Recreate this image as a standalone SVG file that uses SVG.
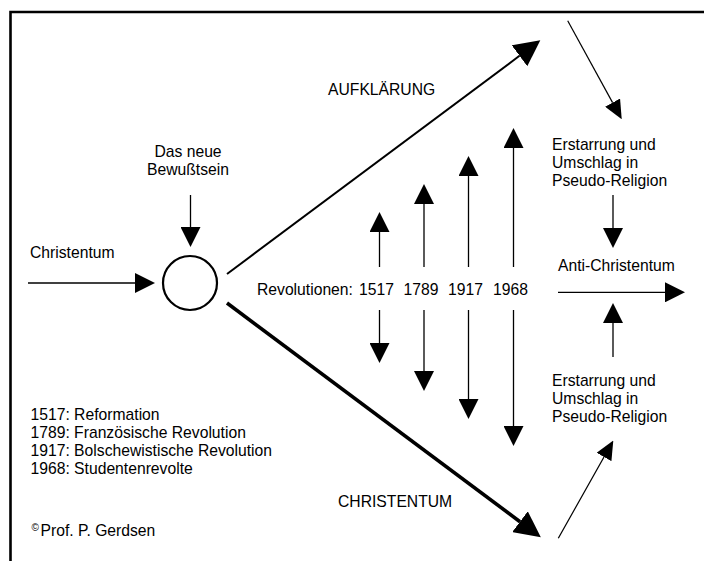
<svg xmlns="http://www.w3.org/2000/svg" width="704" height="561" viewBox="0 0 704 561">
<style>
text{font-family:"Liberation Sans",Arial,sans-serif;font-size:15.7px;fill:#000}
.c{text-anchor:middle}
.ln{stroke:#000;fill:none;stroke-width:1.3}
.thin{stroke:#000;fill:none;stroke-width:1.2}
.up{stroke:#000;fill:none;stroke-width:2}
.dn{stroke:#000;fill:none;stroke-width:3.6}
</style>
<defs>
<marker id="h" viewBox="0 0 20 20" markerWidth="20" markerHeight="20" refX="0" refY="10" orient="auto" markerUnits="userSpaceOnUse"><path d="M0,0 L20,10 L0,20 z" fill="#000"/></marker>
<marker id="hb" viewBox="0 0 26 26" markerWidth="26" markerHeight="26" refX="0" refY="13" orient="auto" markerUnits="userSpaceOnUse"><path d="M0,0 L26,13 L0,26 z" fill="#000"/></marker>
<marker id="ht" viewBox="0 0 19 17" markerWidth="19" markerHeight="17" refX="0" refY="8.5" orient="auto" markerUnits="userSpaceOnUse"><path d="M0,0 L19,8.5 L0,17 z" fill="#000"/></marker>
</defs>
<rect width="704" height="561" fill="#fff"/>
<path d="M10.5,561 V12 H704" fill="none" stroke="#000" stroke-width="2.6"/>

<g id="connectors">
<path class="ln" d="M28,283 H135" marker-end="url(#h)"/>
<path class="ln" d="M190.5,195 V227" marker-end="url(#h)"/>
<path class="up" d="M227,274 L519.5,55.8" marker-end="url(#hb)"/>
<path class="dn" d="M227,303 L520,521.7" marker-end="url(#hb)"/>
<path class="thin" d="M567.7,20.7 L612.6,102.6" marker-end="url(#ht)"/>
<path class="thin" d="M558.3,538.3 L604,457" marker-end="url(#ht)"/>
<path class="ln" d="M613,195 V228" marker-end="url(#h)"/>
<path class="ln" d="M613,357 V323" marker-end="url(#h)"/>
<path class="ln" d="M558,292.3 H665" marker-end="url(#h)"/>
<path class="ln" d="M379.5,267 V232" marker-end="url(#h)"/>
<path class="ln" d="M424,267 V204" marker-end="url(#h)"/>
<path class="ln" d="M468.5,267 V176" marker-end="url(#h)"/>
<path class="ln" d="M513.5,267 V148" marker-end="url(#h)"/>
<path class="ln" d="M379.5,310 V343" marker-end="url(#h)"/>
<path class="ln" d="M424,310 V371" marker-end="url(#h)"/>
<path class="ln" d="M468.5,310 V399" marker-end="url(#h)"/>
<path class="ln" d="M513.5,310 V426" marker-end="url(#h)"/>
</g>

<g id="node-circle"><circle cx="190" cy="283" r="27" fill="#fff" stroke="#000" stroke-width="2.2"/></g>
<g id="node-bewusstsein"><text class="c" x="188" y="157">Das neue</text><text class="c" x="188" y="175">Bewußtsein</text></g>
<g id="node-christentum-in"><text x="30" y="258">Christentum</text></g>
<g id="node-aufklaerung"><text x="328" y="95">AUFKLÄRUNG</text></g>
<g id="node-revolutionen"><text y="295"><tspan x="257">Revolutionen:</tspan><tspan x="359">1517</tspan><tspan x="403.5">1789</tspan><tspan x="448">1917</tspan><tspan x="493">1968</tspan></text></g>
<g id="node-erstarrung-oben"><text x="552" y="150">Erstarrung und</text><text x="552" y="168">Umschlag in</text><text x="552" y="186">Pseudo-Religion</text></g>
<g id="node-anti"><text x="558" y="271">Anti-Christentum</text></g>
<g id="node-erstarrung-unten"><text x="552" y="386">Erstarrung und</text><text x="552" y="404">Umschlag in</text><text x="552" y="422">Pseudo-Religion</text></g>
<g id="node-legend"><text x="30.5" y="420">1517: Reformation</text><text x="30.5" y="438">1789: Französische Revolution</text><text x="30.5" y="456">1917: Bolschewistische Revolution</text><text x="30.5" y="474">1968: Studentenrevolte</text></g>
<g id="node-christentum-out"><text x="338" y="507">CHRISTENTUM</text></g>
<g id="node-copyright"><text x="31.5" y="531" style="font-size:10px">©</text><text x="40.5" y="536">Prof. P. Gerdsen</text></g>
</svg>
